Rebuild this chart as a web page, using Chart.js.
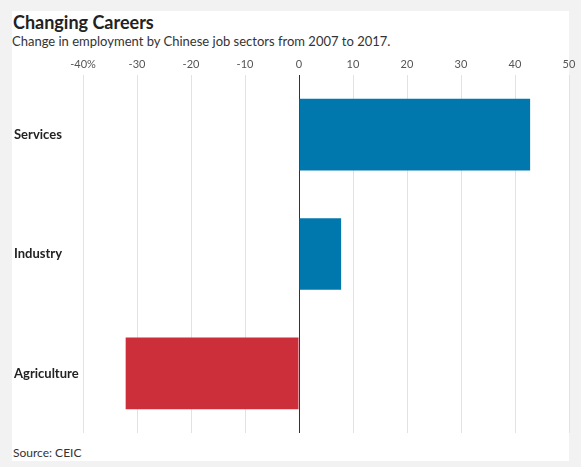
<!DOCTYPE html>
<html>
<head>
<meta charset="utf-8">
<script src="https://cdn.jsdelivr.net/npm/chart.js@4.4.1/dist/chart.umd.min.js"></script>
<style>
    body { margin: 0; background: #f2f2f2; font-family: Lato, sans-serif; }
    .card { position: absolute; left: 12px; top: 11px; width: 557px; height: 450px; background: #fff; }
    .title { position: absolute; left: 13px; top: 11px; font-size: 18px; font-weight: bold; color: #222; }
    .sub { position: absolute; left: 12px; top: 33px; font-size: 13px; color: #333; }
    .source { position: absolute; left: 13px; top: 445px; font-size: 12px; color: #333; }
    #canvas { position: absolute; left: 0; top: 0; }
</style>
</head>
<body>
<div class="card"></div>
<div class="title">Changing Careers</div>
<div class="sub">Change in employment by Chinese job sectors from 2007 to 2017.</div>
<div class="source">Source: CEIC</div>
<canvas id="canvas" width="581" height="467"></canvas>
<script>
    // sectors and % change in employment, 2007-2017
    var sectors = ["Services", "Industry", "Agriculture"];
    var change = [42.8, 7.8, -32.1];
    var xTicks = [-40, -30, -20, -10, 0, 10, 20, 30, 40, 50];

    var barColors = change.map(function (v) { return v < 0 ? "#cc2f3a" : "#0077ad"; });

    var ctx = document.getElementById("canvas").getContext("2d");
    var myChart = new Chart(ctx, {
        type: 'bar',
        data: {
            labels: sectors,
            datasets: [{
                data: change,
                backgroundColor: barColors,
                borderWidth: 0,
                barPercentage: 0.6,
                categoryPercentage: 1
            }]
        },
        options: {
            indexAxis: 'y',
            responsive: false,
            animation: false,
            layout: { padding: { left: 14, right: 12, top: 0, bottom: 34 } },
            plugins: { legend: { display: false }, tooltip: { enabled: false } },
            scales: {
                x: {
                    position: 'top',
                    min: -40,
                    max: 50,
                    afterBuildTicks: function (axis) {
                        axis.ticks = xTicks.map(function (v) { return { value: v }; });
                    },
                    afterFit: function (axis) { axis.height = 75; },
                    border: { display: false },
                    grid: {
                        drawTicks: false,
                        color: function (c) { return c.tick && c.tick.value === 0 ? "#333" : "#e2e2e2"; },
                        lineWidth: 1
                    },
                    ticks: {
                        padding: 4,
                        color: "#555",
                        font: { family: "Lato", size: 11 },
                        callback: function (v) { return v === -40 ? v + "%" : v; }
                    }
                },
                y: {
                    afterFit: function (axis) { axis.width = 69; },
                    border: { display: false },
                    grid: { display: false },
                    ticks: {
                        crossAlign: 'far',
                        padding: 0,
                        color: "#222",
                        font: { family: "Lato", size: 13, weight: 'bold' }
                    }
                }
            }
        }
    });
</script>
</body>
</html>
